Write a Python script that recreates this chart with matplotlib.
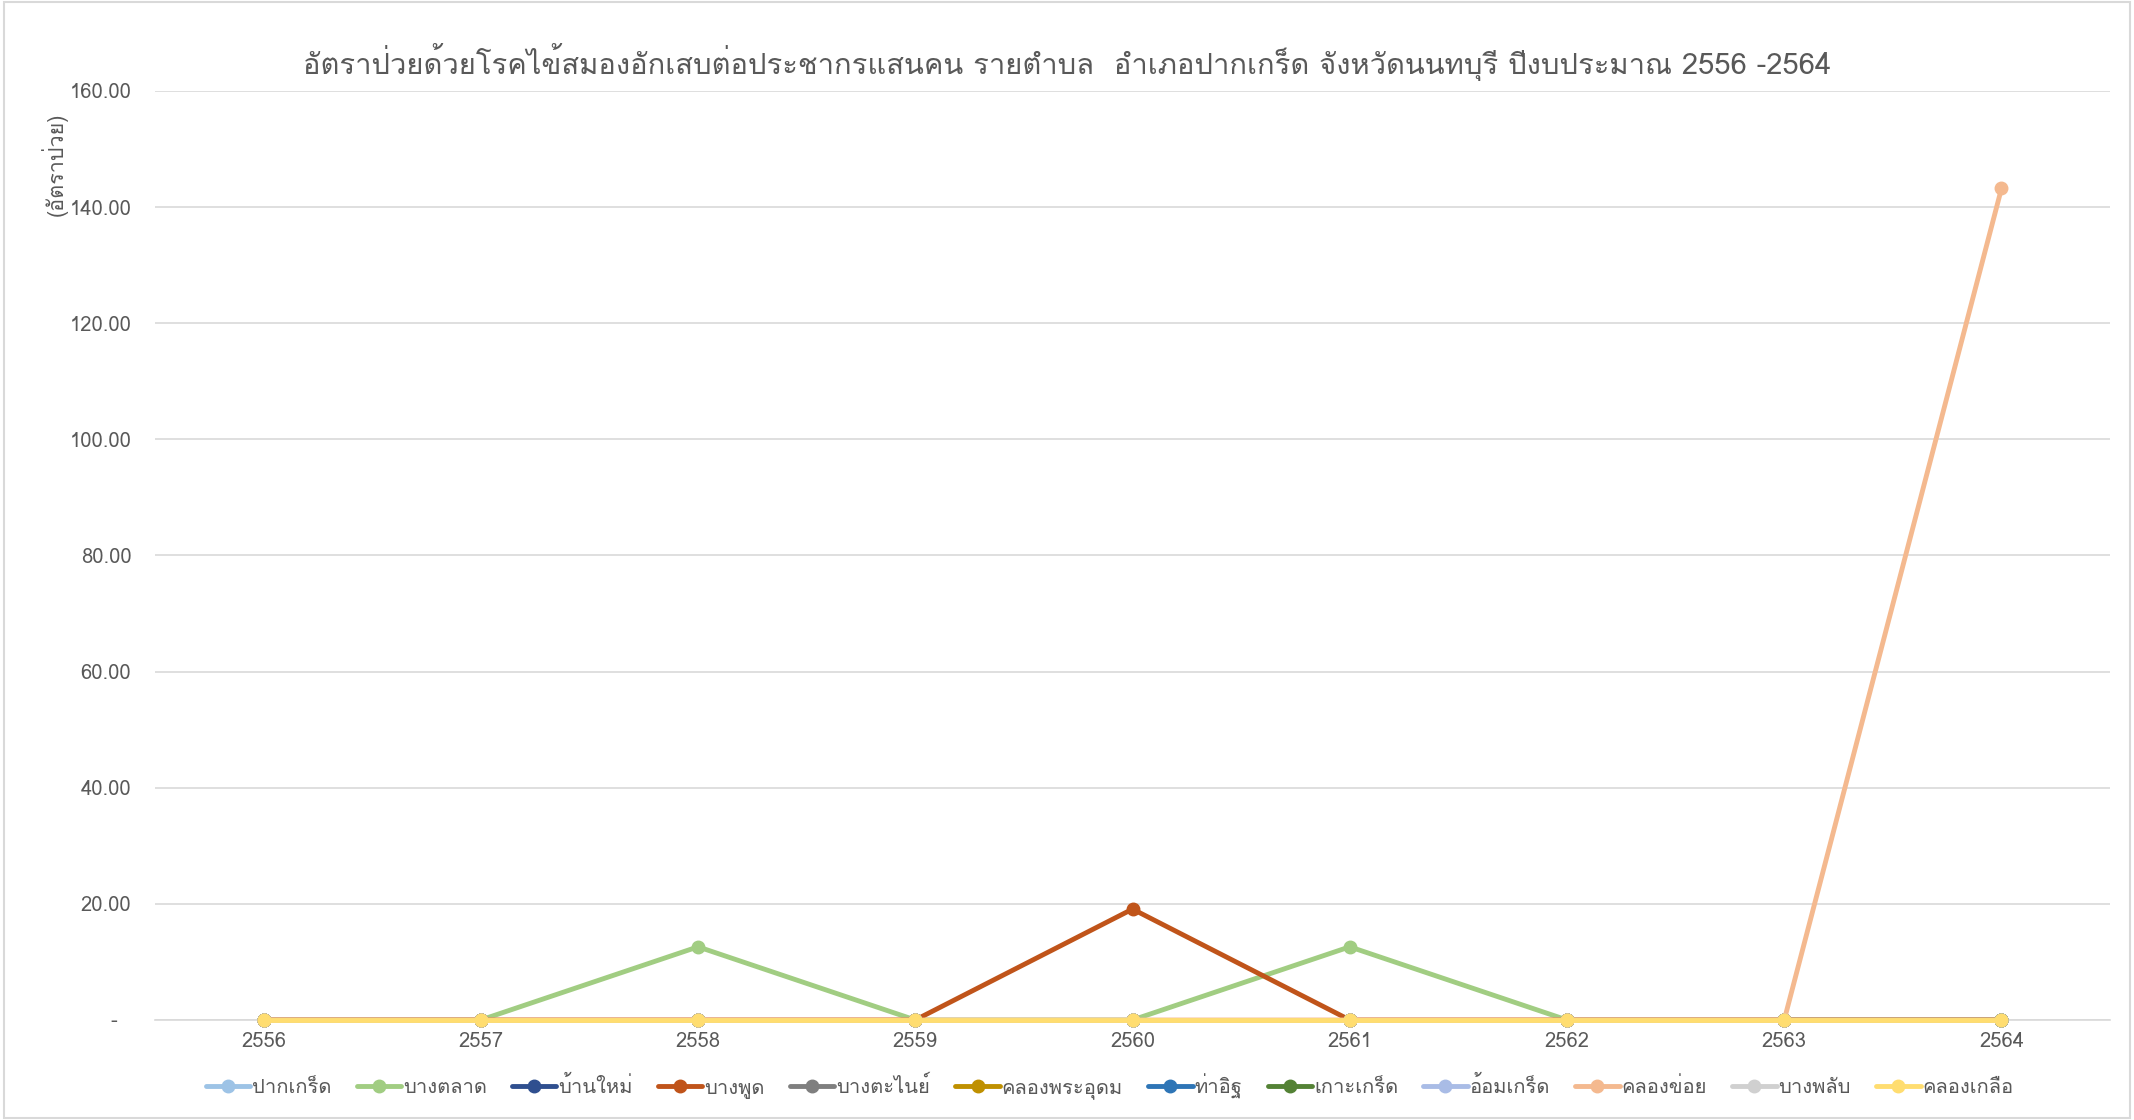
import matplotlib
matplotlib.use("Agg")
import matplotlib.pyplot as plt
from matplotlib import font_manager
from matplotlib.ft2font import FT2Font
from matplotlib.patches import Rectangle
from matplotlib.ticker import FuncFormatter

# data
years = ["2556", "2557", "2558", "2559", "2560", "2561", "2562", "2563", "2564"]
pak_kret = [0, 0, 0, 0, 0, 0, 0, 0, 0]
bang_talat = [0, 0, 12.6, 0, 0, 12.6, 0, 0, 0]
ban_mai = [0, 0, 0, 0, 0, 0, 0, 0, 0]
bang_phut = [0, 0, 0, 0, 19.1, 0, 0, 0, 0]
bang_tanai = [0, 0, 0, 0, 0, 0, 0, 0, 0]
khlong_phra_udom = [0, 0, 0, 0, 0, 0, 0, 0, 0]
tha_it = [0, 0, 0, 0, 0, 0, 0, 0, 0]
ko_kret = [0, 0, 0, 0, 0, 0, 0, 0, 0]
om_kret = [0, 0, 0, 0, 0, 0, 0, 0, 0]
khlong_khoi = [0, 0, 0, 0, 0, 0, 0, 0, 143.2]
bang_phlap = [0, 0, 0, 0, 0, 0, 0, 0, 0]
khlong_kluea = [0, 0, 0, 0, 0, 0, 0, 0, 0]

names = ["ปากเกร็ด", "บางตลาด", "บ้านใหม่", "บางพูด", "บางตะไนย์", "คลองพระอุดม",
         "ท่าอิฐ", "เกาะเกร็ด", "อ้อมเกร็ด", "คลองข่อย", "บางพลับ", "คลองเกลือ"]
series = [pak_kret, bang_talat, ban_mai, bang_phut, bang_tanai, khlong_phra_udom,
          tha_it, ko_kret, om_kret, khlong_khoi, bang_phlap, khlong_kluea]
colors = ["#9dc3e6", "#a1cd82", "#2f4f8f", "#c0541a", "#7f7f7f", "#bf9000",
          "#2e75b6", "#548235", "#a9bce6", "#f4b98f", "#d0d0d0", "#ffdd70"]

title = "อัตราป่วยด้วยโรคไข้สมองอักเสบต่อประชากรแสนคน รายตำบล  อำเภอปากเกร็ด จังหวัดนนทบุรี ปีงบประมาณ 2556 -2564"


# pick an installed font that has Thai glyphs
def find_thai_font():
    for path in sorted(font_manager.findSystemFonts()):
        try:
            if 0x0E01 in FT2Font(path).get_charmap():
                return font_manager.FontProperties(fname=path).get_name()
        except Exception:
            pass
    return None


thai = find_thai_font()
families = [thai, "DejaVu Sans"] if thai else ["DejaVu Sans"]
plt.rcParams["font.family"] = families

text_color = "#595959"

fig = plt.figure(figsize=(21.34, 11.2), dpi=100)
ax = fig.add_axes([0.0726, 0.0893, 0.9162, 0.8295])

x = list(range(len(years)))
for vals, name, col in zip(series, names, colors):
    ax.plot(x, vals, color=col, lw=3.5, marker="o", ms=9, label=name,
            solid_capstyle="round", clip_on=False, zorder=3)

ax.set_xlim(-0.5, len(years) - 0.5)
ax.set_ylim(0, 160)
ax.set_yticks(range(0, 161, 20))
ax.yaxis.set_major_formatter(FuncFormatter(lambda v, p: "-  " if v == 0 else f"{v:.2f}"))
ax.set_xticks(x)
ax.set_xticklabels(years)
ax.tick_params(length=0, labelsize=14.5, colors=text_color)
ax.tick_params(axis="y", pad=17)
ax.tick_params(axis="x", pad=9)
ax.grid(axis="y", color="#d9d9d9", lw=1.2)
ax.set_axisbelow(True)
for s in ["top", "right", "left"]:
    ax.spines[s].set_visible(False)
ax.spines["bottom"].set_color("#d9d9d9")
ax.spines["bottom"].set_linewidth(1.2)

fig.suptitle(title, y=0.962, fontsize=21, color=text_color)
fig.text(0.0253, 0.853, "(อัตราป่วย)", rotation=90, ha="center", va="center",
         fontsize=15.5, color=text_color)

fig.legend(loc="center", bbox_to_anchor=(0.52, 0.03), ncol=12, frameon=False,
           fontsize=14.5, handlelength=2.2, columnspacing=1.25, handletextpad=0.1,
           labelcolor=text_color)

fig.patches.append(Rectangle((0.002, 0.002), 0.996, 0.996, transform=fig.transFigure,
                             fill=False, edgecolor="#d9d9d9", lw=1.5))

fig.savefig("out.png", dpi=100)
